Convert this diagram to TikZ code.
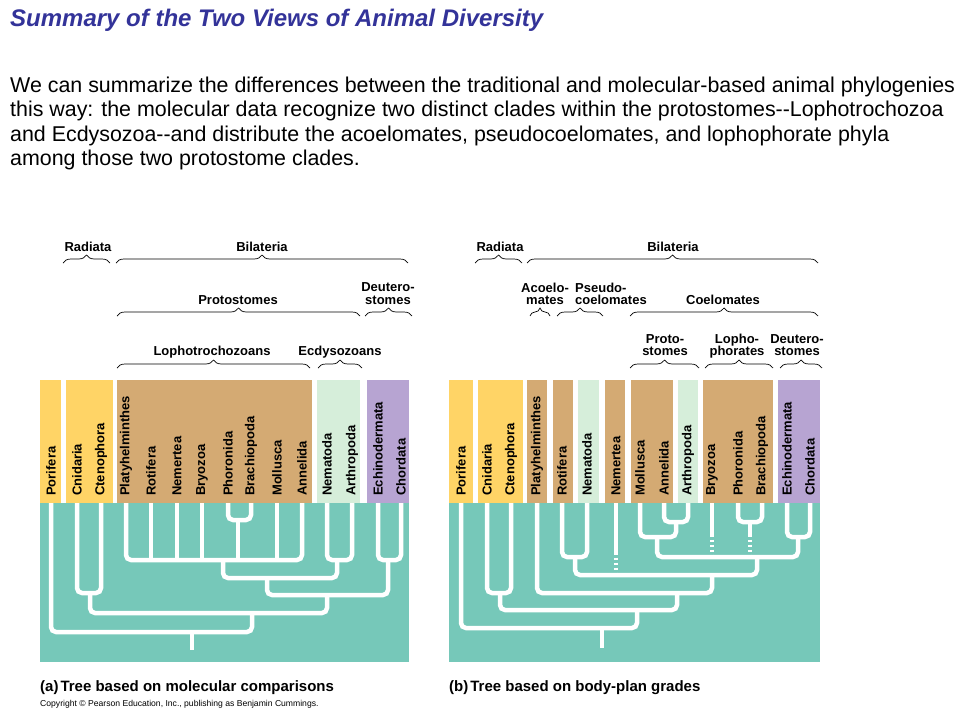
\documentclass[tikz,border=0pt]{standalone}
\usepackage{fontspec}
\setmainfont{Liberation Sans}
\usepackage{tikz}
\usetikzlibrary{decorations.pathreplacing}

\definecolor{titleblue}{RGB}{51,51,153}
\definecolor{radyellow}{RGB}{255,212,102}
\definecolor{protobrown}{RGB}{212,170,115}
\definecolor{ecdygreen}{RGB}{214,238,218}
\definecolor{deutpurple}{RGB}{183,164,210}
\definecolor{treeteal}{RGB}{118,200,185}

\begin{document}
\begin{tikzpicture}[
x=1pt, y=-1pt,
taxon/.style={rotate=90, anchor=west, inner sep=0pt, font=\bfseries\fontsize{13}{13}\selectfont},
group/.style={inner sep=0pt, align=center, font=\bfseries\fontsize{13}{12.5}\selectfont},
bracket/.style={decorate, decoration={brace, amplitude=8pt}, line width=0.7pt},
branch/.style={draw=white, line width=4.5pt, rounded corners=5pt},
gap/.style={draw=white, line width=4.5pt, dash pattern=on 2.5pt off 2.5pt, dash phase=2.5pt}]

\fill[white] (0,0) rectangle (960,720);
\useasboundingbox (0,0) rectangle (960,720);

% heading
\node[anchor=base west, inner sep=0pt, text=titleblue,
      font=\bfseries\itshape\fontsize{24}{24}\selectfont] (title) at (10,27)
      {Summary of the Two Views of Animal Diversity};
\node[anchor=base west, inner sep=0pt, font=\fontsize{21.4}{24}\selectfont] (par1) at (10,92)
      {We can summarize the differences between the traditional and molecular-based animal phylogenies};
\node[anchor=base west, inner sep=0pt, font=\fontsize{21.4}{24}\selectfont] (par2) at (10,116)
      {this way: the molecular data recognize two distinct clades within the protostomes-{}-Lophotrochozoa};
\node[anchor=base west, inner sep=0pt, font=\fontsize{21.4}{24}\selectfont] (par3) at (10,141)
      {and Ecdysozoa-{}-and distribute the acoelomates, pseudocoelomates, and lophophorate phyla};
\node[anchor=base west, inner sep=0pt, font=\fontsize{21.4}{24}\selectfont] (par4) at (10,165)
      {among those two protostome clades.};

% (a) molecular tree
\fill[treeteal] (40,503) rectangle (409,662);
\fill[radyellow] (40,380) rectangle (61,503);
\fill[radyellow] (66,380) rectangle (113,503);
\fill[protobrown] (117,380) rectangle (312,503);
\fill[ecdygreen] (317,380) rectangle (360,503);
\fill[deutpurple] (367,380) rectangle (409,503);

\node[taxon] (lpor) at (51,496) {Porifera};
\node[taxon] (lcni) at (77,496) {Cnidaria};
\node[taxon] (lcte) at (101,496) {Ctenophora};
\node[taxon] (lpla) at (126,496) {Platyhelminthes};
\node[taxon] (lrot) at (151,496) {Rotifera};
\node[taxon] (lnem) at (177,496) {Nemertea};
\node[taxon] (lbry) at (202,496) {Bryozoa};
\node[taxon] (lpho) at (228,496) {Phoronida};
\node[taxon] (lbra) at (251,496) {Brachiopoda};
\node[taxon] (lmol) at (277,496) {Mollusca};
\node[taxon] (lann) at (302,496) {Annelida};
\node[taxon] (lnmt) at (327,496) {Nematoda};
\node[taxon] (lart) at (352,496) {Arthropoda};
\node[taxon] (lech) at (378,496) {Echinodermata};
\node[taxon] (lcho) at (401,496) {Chordata};

\coordinate (ltop) at (0,503);
\coordinate (lj1) at (238,520);
\coordinate (lj2) at (223,560);
\coordinate (lj3) at (337,560);
\coordinate (lj4) at (388,560);
\coordinate (lj5) at (267,578);
\coordinate (lj6) at (327,595);
\coordinate (lj7) at (90,593);
\coordinate (lj8) at (252,613);
\coordinate (lj9) at (192,632);
\coordinate (lroot) at (192,650);

\draw[branch] (lpho |- ltop) |- (lj1) -| (lbra |- ltop);
\draw[branch] (lpla |- ltop) |- (lj2) -| (lann |- ltop);
\draw[branch] (lrot |- ltop) -- (lrot |- lj2);
\draw[branch] (lnem |- ltop) -- (lnem |- lj2);
\draw[branch] (lbry |- ltop) -- (lbry |- lj2);
\draw[branch] (lmol |- ltop) -- (lmol |- lj2);
\draw[branch] (lj1) -- (lj1 |- lj2);
\draw[branch] (lnmt |- ltop) |- (lj3) -| (lart |- ltop);
\draw[branch] (lech |- ltop) |- (lj4) -| (lcho |- ltop);
\draw[branch] (lj2) |- (lj5) -| (lj3);
\draw[branch] (lj5) |- (lj6) -| (lj4);
\draw[branch] (lcni |- ltop) |- (lj7) -| (lcte |- ltop);
\draw[branch] (lj7) |- (lj8) -| (lj6);
\draw[branch] (lpor |- ltop) |- (lj9) -| (lj8);
\draw[branch] (lj9) -- (lroot);

\node[group, anchor=base] (lrad) at (88,251) {Radiata};
\node[group, anchor=base] (lbil) at (262,251) {Bilateria};
\node[group, anchor=base] (lpro) at (238,304) {Protostomes};
\node[group] (ldeu) at (388,293.5) {Deutero-\\stomes};
\node[group, anchor=base] (llop) at (212,355) {Lophotrochozoans};
\node[group, anchor=base] (lecd) at (340,355) {Ecdysozoans};
\draw[bracket] (63,263) -- (110,263);
\draw[bracket] (116,263) -- (408,263);
\draw[bracket] (117,316) -- (360,316);
\draw[bracket] (365,316) -- (412,316);
\draw[bracket] (117,368) -- (310,368);
\draw[bracket] (318,368) -- (362,368);

% (b) body-plan tree
\fill[treeteal] (449,503) rectangle (820,662);
\fill[radyellow] (449,380) rectangle (473,503);
\fill[radyellow] (478,380) rectangle (523,503);
\fill[protobrown] (527,380) rectangle (547,503);
\fill[protobrown] (553,380) rectangle (573,503);
\fill[ecdygreen] (578,380) rectangle (599,503);
\fill[protobrown] (605,380) rectangle (625,503);
\fill[protobrown] (631,380) rectangle (673,503);
\fill[ecdygreen] (678,380) rectangle (698,503);
\fill[protobrown] (703,380) rectangle (773,503);
\fill[deutpurple] (778,380) rectangle (820,503);

\node[taxon] (rpor) at (461,496) {Porifera};
\node[taxon] (rcni) at (487,496) {Cnidaria};
\node[taxon] (rcte) at (511,496) {Ctenophora};
\node[taxon] (rpla) at (537,496) {Platyhelminthes};
\node[taxon] (rrot) at (562,496) {Rotifera};
\node[taxon] (rnmt) at (587,496) {Nematoda};
\node[taxon] (rnme) at (616,496) {Nemertea};
\node[taxon] (rmol) at (640,496) {Mollusca};
\node[taxon] (rann) at (664,496) {Annelida};
\node[taxon] (rart) at (688,496) {Arthropoda};
\node[taxon] (rbry) at (712,496) {Bryozoa};
\node[taxon] (rpho) at (738,496) {Phoronida};
\node[taxon] (rbra) at (762,496) {Brachiopoda};
\node[taxon] (rech) at (787,496) {Echinodermata};
\node[taxon] (rcho) at (810,496) {Chordata};

\coordinate (rtop) at (0,503);
\coordinate (rg1) at (0,537);
\coordinate (rg2) at (0,555);
\coordinate (rj1) at (676,522);
\coordinate (rj2) at (657,537);
\coordinate (rj3) at (750,522);
\coordinate (rj4) at (798,537);
\coordinate (rj5) at (757,557);
\coordinate (rj6) at (575,557);
\coordinate (rj7) at (712,575);
\coordinate (rj8) at (677,593);
\coordinate (rj9) at (500,593);
\coordinate (rj10) at (637,610);
\coordinate (rj11) at (602,628);
\coordinate (rroot) at (602,648);

\draw[branch] (rann |- rtop) |- (rj1) -| (rart |- rtop);
\draw[branch] (rmol |- rtop) |- (rj2) -| (rj1);
\draw[branch] (rpho |- rtop) |- (rj3) -| (rbra |- rtop);
\draw[branch] (rech |- rtop) |- (rj4) -| (rcho |- rtop);
\draw[branch] (rj2) |- (rj5) -| (rj4);
\draw[branch] (rbry |- rtop) -- (rbry |- rg1);
\draw[gap] (rbry |- rg1) -- (rbry |- rj5);
\draw[branch] (rj3) -- (rj3 |- rg1);
\draw[gap] (rj3 |- rg1) -- (rj3 |- rj5);
\draw[branch] (rrot |- rtop) |- (rj6) -| (rnmt |- rtop);
\draw[branch] (rj6) |- (rj7) -| (rj5);
\draw[branch] (rnme |- rtop) -- (rnme |- rg2);
\draw[gap] (rnme |- rg2) -- (rnme |- rj7);
\draw[branch] (rpla |- rtop) |- (rj8) -| (rj7);
\draw[branch] (rcni |- rtop) |- (rj9) -| (rcte |- rtop);
\draw[branch] (rj9) |- (rj10) -| (rj8);
\draw[branch] (rpor |- rtop) |- (rj11) -| (rj10);
\draw[branch] (rj11) -- (rroot);

\node[group, anchor=base] (rrad) at (500,251) {Radiata};
\node[group, anchor=base] (rbil) at (673,251) {Bilateria};
\node[group] (race) at (545,294) {Acoelo-\\mates};
\node[group, align=left, anchor=west] (rpse) at (575,294) {Pseudo-\\coelomates};
\node[group, anchor=base] (rcoe) at (723,304) {Coelomates};
\node[group] (rpro) at (665,345) {Proto-\\stomes};
\node[group] (rlop) at (737,346) {Lopho-\\phorates};
\node[group] (rdeu) at (797,345) {Deutero-\\stomes};
\draw[bracket] (475,263) -- (522,263);
\draw[bracket] (527,263) -- (818,263);
\draw[bracket] (530,316) -- (550,316);
\draw[bracket] (557,316) -- (603,316);
\draw[bracket] (630,316) -- (818,316);
\draw[bracket] (630,368) -- (699,368);
\draw[bracket] (705,368) -- (773,368);
\draw[bracket] (780,368) -- (822,368);

% captions
\node[anchor=base west, inner sep=0pt, font=\bfseries\fontsize{15}{15}\selectfont] (lcap) at (40,691)
      {(a)\hspace{2pt}Tree based on molecular comparisons};
\node[anchor=base west, inner sep=0pt, font=\bfseries\fontsize{15}{15}\selectfont] (rcap) at (449,691)
      {(b)\hspace{2pt}Tree based on body-plan grades};
\node[anchor=base west, inner sep=0pt, font=\fontsize{8.6}{9}\selectfont] (copy) at (40,706)
      {Copyright \textcopyright{} Pearson Education, Inc., publishing as Benjamin Cummings.};
\end{tikzpicture}
\end{document}
